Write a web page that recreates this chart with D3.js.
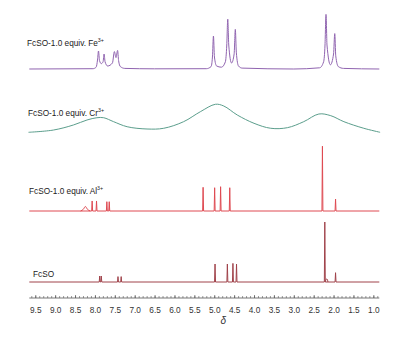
<!DOCTYPE html>
<html>
<head>
<meta charset="utf-8">
<script src="https://cdn.jsdelivr.net/npm/d3@7"></script>
<style>
  html, body { margin: 0; padding: 0; background: #ffffff; }
  svg { display: block; }
  text { font-family: "Liberation Sans", Arial, sans-serif; }
</style>
</head>
<body>
<svg id="chart" width="406" height="341"></svg>
<script>
// ---------------- DATA ----------------
// chemical shift axis (ppm)
const ppmExtent = [9.65, 0.85];
const majorTicks = [9.5, 9.0, 8.5, 8.0, 7.5, 7.0, 6.5, 6.0, 5.5, 5.0, 4.5, 4.0, 3.5, 3.0, 2.5, 2.0, 1.5, 1.0];
const tickLabels = ["9.5","9.0","8.5","8.0","7.5","7.0","6.5","6.0","5.5","5.0","4.5","4.0","3.5","3.0","2.5","2.0","1.5","1.0"];
const axisTitle = "δ";

// spectrum names
const spectrumNames = ["FcSO-1.0 equiv. Fe", "FcSO-1.0 equiv. Cr", "FcSO-1.0 equiv. Al", "FcSO"];
const spectrumIons = ["3+", "3+", "3+", ""];

// Fe3+ spectrum: [ppm, intensity]
const feTrace = [
  [9.65,0],[8.05,0.5],[7.97,3],[7.935,15],[7.91,30],[7.885,14],[7.84,9],[7.795,12],[7.77,25],[7.745,12],
  [7.68,5],[7.56,10],[7.51,29],[7.47,19],[7.43,31],[7.405,14],[7.36,4],[7.25,1],[6.5,0.3],[5.2,0.5],
  [5.08,4],[5.045,20],[5.02,55],[4.995,20],[4.94,5],[4.82,3],[4.72,12],[4.685,40],[4.66,83],[4.635,40],
  [4.565,10],[4.50,25],[4.47,66],[4.445,28],[4.39,5],[4.3,1.5],[3.0,0],[2.35,2],[2.25,12],[2.215,40],
  [2.19,91],[2.165,40],[2.08,7],[2.0,25],[1.97,59],[1.945,22],[1.88,4],[1.75,1],[0.85,0]
];

// Cr3+ spectrum: [ppm, intensity]
const crTrace = [
  [9.67,0],[9.04,3.8],[8.54,12.2],[8.20,20.5],[7.95,24.3],[7.78,24.3],[7.53,17.7],[7.19,9.3],[6.69,5.5],
  [6.27,6.7],[5.77,17.7],[5.35,34.3],[4.97,46.7],[4.76,43.8],[4.42,28.8],[4.00,15],[3.58,6.7],[3.16,7.7],
  [2.75,17.7],[2.37,30.5],[2.07,27.7],[1.74,17.7],[1.24,6.7],[0.83,0]
];

// Al3+ spectrum: sharp peaks [ppm, intensity]
const alPeaks = [
  [8.07,16.7],[7.96,16.7],[7.70,15.5],[7.64,15.5],
  [5.28,39.5],[4.99,38.8],[4.84,40.5],[4.61,38.8],
  [2.28,108],[1.95,20]
];
const alBroad = [[8.36,0],[8.29,3],[8.24,7.5],[8.19,3],[8.12,0]];

// free FcSO spectrum: sharp peaks [ppm, intensity]
const fcPeaks = [
  [7.88,10],[7.84,10],[7.42,9],[7.34,9],
  [4.98,30],[4.67,30],[4.53,31],[4.44,30],
  [2.22,100],[1.95,15.5]
];
const fcBroad = [[2.21,0],[2.19,4],[2.165,5],[2.14,0]];

// ---------------- LAYOUT ----------------
const svg = d3.select("#chart");
const x = d3.scaleLinear().domain(ppmExtent).range([29.3, 379.3]);
const y = d3.scaleLinear().domain([0, 100]).range([0, 60]); // intensity -> px height
const baselines = [69, 132.3, 211, 282];
const colors = ["#9064b0", "#5b9e8c", "#df4a52", "#a0424a"];

function traceLine(base, curve) {
  return d3.line()
    .x(d => x(d[0]))
    .y(d => base - y(d[1]))
    .curve(curve);
}

function spikes(peaks, hw) {
  const sorted = peaks.slice().sort((a, b) => b[0] - a[0]);
  const pts = [[ppmExtent[0], 0]];
  sorted.forEach(p => { pts.push([p[0] + hw, 0], [p[0], p[1]], [p[0] - hw, 0]); });
  pts.push([ppmExtent[1], 0]);
  return pts;
}

// Fe
svg.append("path").attr("d", traceLine(baselines[0], d3.curveMonotoneX)(feTrace))
  .attr("fill", "none").attr("stroke", colors[0]).attr("stroke-width", 1);
// Cr
svg.append("path").attr("d", traceLine(baselines[1], d3.curveCatmullRom.alpha(0.5))(crTrace))
  .attr("fill", "none").attr("stroke", colors[1]).attr("stroke-width", 1);
// Al
svg.append("path").attr("d", traceLine(baselines[2], d3.curveLinear)(spikes(alPeaks, 0.012)))
  .attr("fill", "none").attr("stroke", colors[2]).attr("stroke-width", 1);
svg.append("path").attr("d", traceLine(baselines[2], d3.curveMonotoneX)(alBroad))
  .attr("fill", "none").attr("stroke", colors[2]).attr("stroke-width", 1);
// FcSO
svg.append("path").attr("d", traceLine(baselines[3], d3.curveLinear)(spikes(fcPeaks, 0.012)))
  .attr("fill", "none").attr("stroke", colors[3]).attr("stroke-width", 1);
svg.append("path").attr("d", traceLine(baselines[3], d3.curveMonotoneX)(fcBroad))
  .attr("fill", "none").attr("stroke", colors[3]).attr("stroke-width", 1);

// labels
const labelPos = [[27, 46], [28, 116], [29, 194], [33, 277]];
spectrumNames.forEach((name, i) => {
  const t = svg.append("text")
    .attr("transform", `translate(${labelPos[i][0]},${labelPos[i][1]}) scale(0.86,1)`)
    .attr("font-size", 9.6).attr("fill", "#222").text(name);
  if (spectrumIons[i]) {
    t.append("tspan").attr("font-size", 6.2).attr("dy", -3.6).text(spectrumIons[i]);
  }
});

// axis
const axisY = 298;
const minorTicks = d3.range(96, 8, -1).map(v => v / 10).filter(v => v <= ppmExtent[0] && v >= ppmExtent[1]);
const gMinor = svg.append("g").attr("transform", `translate(0,${axisY})`)
  .call(d3.axisBottom(x).tickValues(minorTicks).tickSize(-2).tickFormat(""));
gMinor.select(".domain").remove();
gMinor.selectAll("line").attr("stroke", "#555").attr("stroke-width", 0.6);

const gAxis = svg.append("g").attr("transform", `translate(0,${axisY})`)
  .call(d3.axisBottom(x).tickValues(majorTicks).tickSize(-3).tickPadding(8)
    .tickFormat((d, i) => tickLabels[i]).tickSizeOuter(0));
gAxis.select(".domain").attr("stroke", "#555").attr("stroke-width", 0.8)
  .attr("d", `M${x(ppmExtent[0])},0H${x(ppmExtent[1])}`);
gAxis.selectAll(".tick line").attr("stroke", "#555").attr("stroke-width", 0.7);
gAxis.selectAll(".tick text").attr("font-size", 9.2).attr("fill", "#333")
  .attr("transform", "scale(0.9,1)")
  .attr("font-family", "'Liberation Sans', Arial, sans-serif");

svg.append("text").attr("x", x(4.77)).attr("y", 324)
  .attr("text-anchor", "middle").attr("font-size", 10).attr("font-style", "italic")
  .attr("fill", "#333").text(axisTitle);
</script>
</body>
</html>
